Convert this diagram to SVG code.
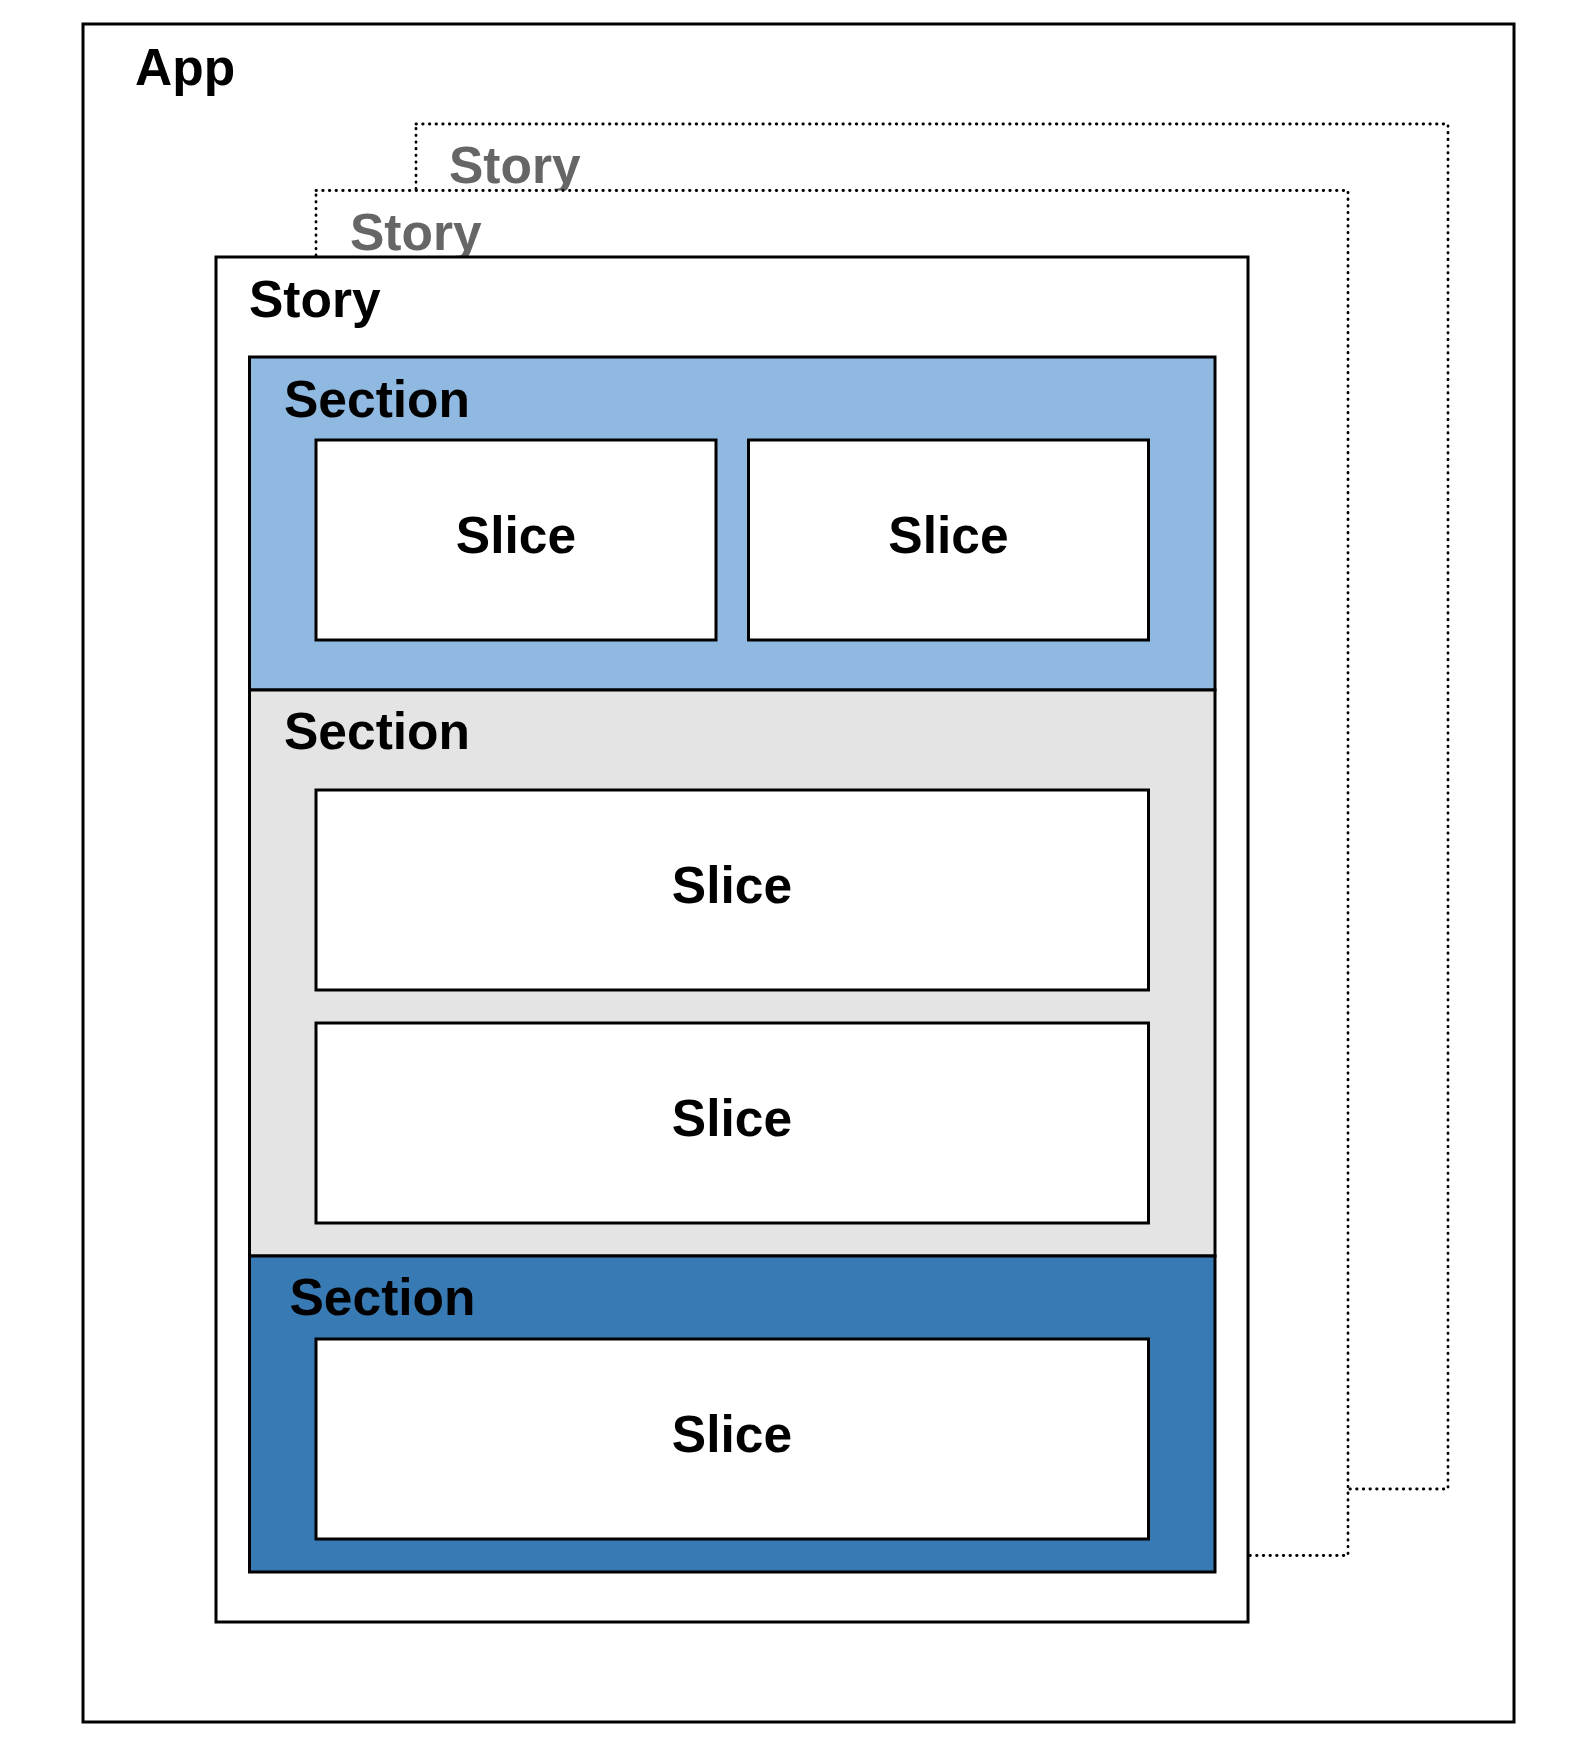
<svg xmlns="http://www.w3.org/2000/svg" width="1584" height="1754" viewBox="0 0 1584 1754">
<style>
.lbl{font-family:"Liberation Sans",Arial,sans-serif;font-weight:bold;font-size:51.5px;fill:#000}
.ghost{fill:#666}
.dot{fill:#fff;stroke:#000;stroke-width:2.8;stroke-dasharray:0.5 6.17;stroke-linecap:round}
.box{stroke:#000;stroke-width:3}
.slice{fill:#fff;stroke:#000;stroke-width:3}
.mid{text-anchor:middle}
</style>
<rect width="1584" height="1754" fill="#fff"/>
<g id="app">
<rect x="83" y="24" width="1431" height="1698" fill="#fff" stroke="#000" stroke-width="3"/>
<text class="lbl" x="135" y="85">App</text>
</g>
<g id="story-back2">
<rect class="dot" x="416" y="124" width="1032" height="1365"/>
<text class="lbl ghost" x="449" y="183">Story</text>
</g>
<g id="story-back1">
<rect class="dot" x="316" y="190.5" width="1032" height="1365"/>
<text class="lbl ghost" x="350" y="250">Story</text>
</g>
<g id="story">
<rect x="216" y="257" width="1032" height="1365" fill="#fff" stroke="#000" stroke-width="3"/>
<text class="lbl" x="249" y="317">Story</text>
</g>
<g id="section1">
<rect class="box" x="249.5" y="357" width="965.5" height="333" fill="#8FB9E0"/>
<text class="lbl" x="284" y="417">Section</text>
</g>
<g id="section2">
<rect class="box" x="249.5" y="690" width="965.5" height="566" fill="#E4E4E4"/>
<text class="lbl" x="284" y="749">Section</text>
</g>
<g id="section3">
<rect class="box" x="249.5" y="1256" width="965.5" height="316" fill="#377AB4"/>
<text class="lbl" x="289.5" y="1315">Section</text>
</g>
<g id="slice1">
<rect class="slice" x="316" y="440" width="400" height="200"/>
<text class="lbl mid" x="516" y="553">Slice</text>
</g>
<g id="slice2">
<rect class="slice" x="748.5" y="440" width="400" height="200"/>
<text class="lbl mid" x="948.5" y="553">Slice</text>
</g>
<g id="slice3">
<rect class="slice" x="316" y="790" width="832.5" height="200"/>
<text class="lbl mid" x="732" y="903">Slice</text>
</g>
<g id="slice4">
<rect class="slice" x="316" y="1023" width="832.5" height="200"/>
<text class="lbl mid" x="732" y="1136">Slice</text>
</g>
<g id="slice5">
<rect class="slice" x="316" y="1339" width="832.5" height="200"/>
<text class="lbl mid" x="732" y="1452">Slice</text>
</g>
<g id="connectors"></g>
</svg>
